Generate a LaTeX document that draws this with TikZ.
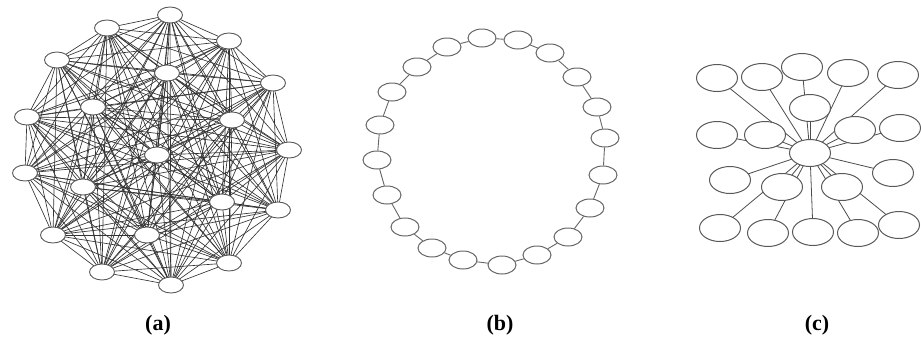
\documentclass[tikz,border=0pt]{standalone}
\usepackage{fontspec}
\setmainfont{Liberation Serif}
\usetikzlibrary{shapes.geometric,backgrounds}
\tikzset{
  px/.style={x=1pt,y=-1pt},
  anode/.style={ellipse,draw=black!65,fill=white,line width=0.9pt,minimum width=25pt,minimum height=16pt,inner sep=0pt},
  aedge/.style={draw=black!80,line width=0.65pt},
  bnode/.style={ellipse,draw=black!60,fill=white,line width=1pt,minimum width=28pt,minimum height=18pt,inner sep=0pt},
  bedge/.style={draw=black!60,line width=0.9pt},
  cnode/.style={ellipse,draw=black!65,fill=white,line width=1pt,minimum width=41pt,minimum height=27pt,inner sep=0pt},
  cedge/.style={draw=black!70,line width=0.8pt},
  caption/.style={font=\fontsize{22}{24}\selectfont\bfseries,inner sep=0pt}
}
\begin{document}
\begin{tikzpicture}[px]
\useasboundingbox (0,0) rectangle (921,341);
% ---------- (a) complete graph ----------
\foreach \p [count=\n] in {(170,15),(229,41),(273,83),(289,150),(278,210),(229,263),(171,285),(102,272),(53,235),(25,173),(27,117),(57,60),(107,28),(167,73),(93,107),(232,120),(157,155),(83,187),(222,202),(147,235)}
  \node[anode] (a\n) at \p {};
\begin{pgfonlayer}{background}
\foreach \i in {1,...,19}{
  \pgfmathtruncatemacro\k{\i+1}
  \foreach \j in {\k,...,20}{ \draw[aedge] (a\i.center) -- (a\j.center); }
}
\end{pgfonlayer}
% ---------- (b) ring ----------
\foreach \p [count=\n] in {(482,38),(518,40),(550,53),(577,77),(597,107),(605,138),(603,175),(590,208),(568,237),(537,255),(502,265),(463,260),(432,248),(405,227),(387,195),(377,160),(380,125),(392,92),(417,67),(447,47)}
  \node[bnode] (b\n) at \p {};
\foreach \i in {1,...,20}{
  \pgfmathtruncatemacro\k{mod(\i,20)+1}
  \draw[bedge] (b\i) -- (b\k);
}
% ---------- (c) star ----------
\node[cnode] (c0) at (810,153) {};
\foreach \p [count=\n] in {(717,78),(762,77),(802,67),(848,73),(898,75),(810,108),(717,135),(765,135),(855,130),(900,128),(730,180),(782,187),(842,187),(893,173),(720,228),(768,233),(813,232),(858,233),(899,225)}
  \node[cnode] (c\n) at \p {};
\begin{pgfonlayer}{background}
\foreach \n in {1,...,19}{ \draw[cedge] (c0.center) -- (c\n.center); }
\end{pgfonlayer}
% ---------- captions ----------
\node[caption] (capa) at (158,325) {(a)};
\node[caption] (capb) at (500,325) {(b)};
\node[caption] (capc) at (817,325) {(c)};
\end{tikzpicture}
\end{document}
